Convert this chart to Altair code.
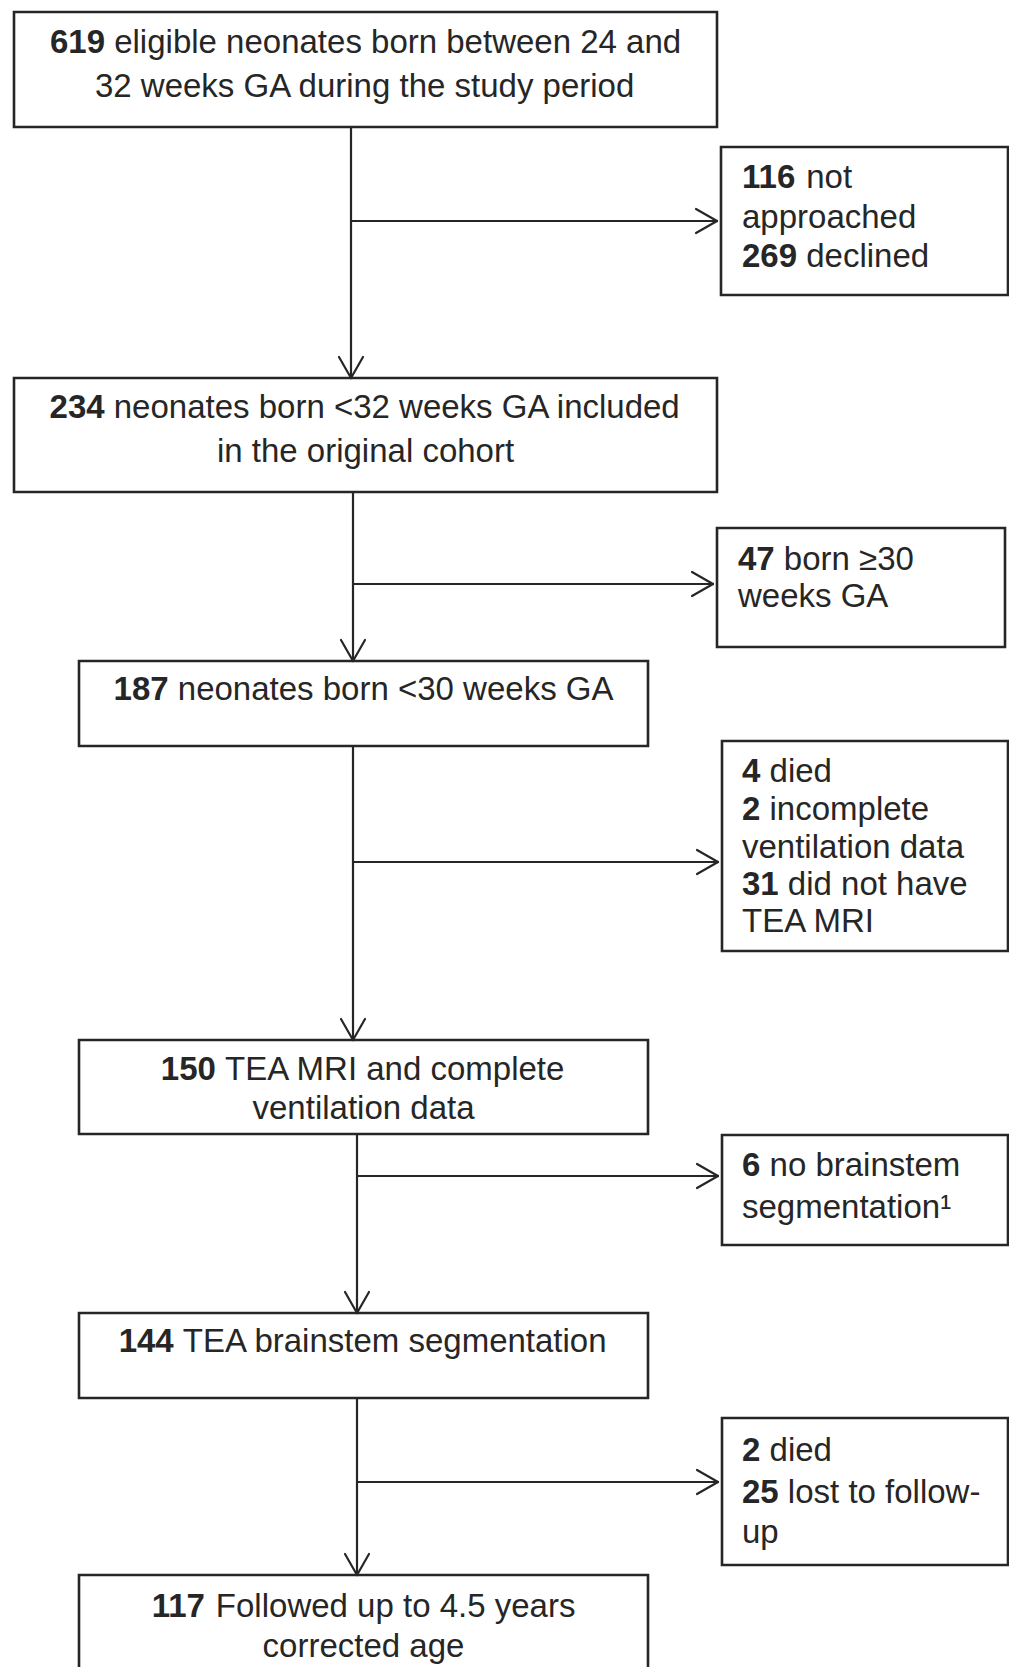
import altair as alt
import pandas as pd

# ---------------- content ----------------
main_text = [
    ["**619** eligible neonates born between 24 and", "32 weeks GA during the study period"],
    ["**234** neonates born <32 weeks GA included", "in the original cohort"],
    ["**187** neonates born <30 weeks GA"],
    ["**150** TEA MRI and complete", "ventilation data"],
    ["**144** TEA brainstem segmentation"],
    ["**117** Followed up to 4.5 years", "corrected age"],
]
side_text = [
    ["**116** not", "approached", "**269** declined"],
    ["**47** born \u226530", "weeks GA"],
    ["**4** died", "**2** incomplete", "ventilation data", "**31** did not have", "TEA MRI"],
    ["**6** no brainstem", "segmentation\u00b9"],
    ["**2** died", "**25** lost to follow-", "up"],
]

# ---------------- layout (page pixels) ----------------
main_box = [(14, 717, 12, 127), (14, 717, 378, 492), (79, 648, 661, 746),
            (79, 648, 1040, 1134), (79, 648, 1313, 1398), (79, 648, 1575, 1700)]
main_base = [[53, 97], [418, 462], [700], [1080, 1119], [1352], [1617, 1657]]
side_box = [(721, 1008, 147, 295), (717, 1005, 528, 647), (722, 1008, 741, 951),
            (722, 1008, 1135, 1245), (722, 1008, 1418, 1565)]
side_left = [742, 738, 742, 742, 742]
side_base = [[188, 228, 267], [570, 607], [782, 820, 858, 895, 932],
             [1176, 1218], [1461, 1503, 1543]]
trunk_x = [351, 353, 353, 357, 357]
branch_y = [221, 584, 862, 1176, 1482]

FS = 33
INK = "#262626"
HEAD_L, HEAD_W = 21, 12

# Arial / Liberation Sans advance widths (1/1000 em)
W = {' ': 278, '<': 584, '\u2265': 549, '.': 278, '-': 333, '\u00b9': 333,
     'A': 667, 'E': 667, 'F': 611, 'G': 778, 'I': 278, 'M': 833, 'R': 722, 'T': 611}
W.update({d: 556 for d in "0123456789"})
W.update(dict(zip("abcdefghijklmnopqrstuvwxyz",
                  [556, 556, 500, 556, 556, 278, 556, 556, 222, 222, 500, 222, 833,
                   556, 556, 556, 556, 333, 500, 278, 556, 500, 722, 500, 500, 500])))


def tw(s):
    return sum(W.get(c, 556) for c in s) * FS / 1000.0


def parse(line):
    if line.startswith("**"):
        num, rest = line[2:].split("** ", 1)
        return [(num, True), (rest, False)]
    return [(line, False)]


def place(line, y, cx=None, left=None):
    segs = parse(line)
    widths = [tw(s) for s, _ in segs]
    total = sum(widths) + tw(" ") * (len(segs) - 1)
    x = left if left is not None else cx - total / 2.0
    out = []
    for (s, b), w in zip(segs, widths):
        out.append({"x": x, "y": y, "text": s, "bold": b})
        x += w + tw(" ")
    return out


texts = []
for lines, bases, (x1, x2, _, _) in zip(main_text, main_base, main_box):
    for ln, yb in zip(lines, bases):
        texts += place(ln, yb, cx=(x1 + x2) / 2.0)
for lines, bases, lx in zip(side_text, side_base, side_left):
    for ln, yb in zip(lines, bases):
        texts += place(ln, yb, left=lx)
text_df = pd.DataFrame(texts)

boxes = [{"x": a, "x2": b, "y": c, "y2": d} for a, b, c, d in main_box + side_box]
box_df = pd.DataFrame(boxes)

lines_ = []
heads = []
for i in range(5):
    tx = trunk_x[i]
    ytop = main_box[i][3]
    ybot = main_box[i + 1][2]
    lines_.append({"x": tx, "y": ytop, "x2": tx, "y2": ybot})
    tip = side_box[i][0] - 4
    by = branch_y[i]
    lines_.append({"x": tx, "y": by, "x2": tip, "y2": by})
    heads.append({"x": tx - HEAD_W, "y": ybot - HEAD_L, "x2": tx, "y2": ybot})
    heads.append({"x": tx + HEAD_W, "y": ybot - HEAD_L, "x2": tx, "y2": ybot})
    heads.append({"x": tip - HEAD_L, "y": by - HEAD_W, "x2": tip, "y2": by})
    heads.append({"x": tip - HEAD_L, "y": by + HEAD_W, "x2": tip, "y2": by})
line_df = pd.DataFrame(lines_)
head_df = pd.DataFrame(heads)

xs = alt.Scale(domain=[8, 1009], nice=False, zero=False)
ys = alt.Scale(domain=[8, 1667], nice=False, zero=False, reverse=True)

conn = alt.Chart(line_df).mark_rule(color=INK, strokeWidth=2.2).encode(
    x=alt.X("x:Q", scale=xs, axis=None), y=alt.Y("y:Q", scale=ys, axis=None),
    x2="x2:Q", y2="y2:Q")
head = alt.Chart(head_df).mark_rule(color=INK, strokeWidth=2.2, strokeCap="round").encode(
    x=alt.X("x:Q", scale=xs, axis=None), y=alt.Y("y:Q", scale=ys, axis=None),
    x2="x2:Q", y2="y2:Q")
rects = alt.Chart(box_df).mark_rect(fill="white", stroke=INK, strokeWidth=2.6, clip=True).encode(
    x=alt.X("x:Q", scale=xs, axis=None), y=alt.Y("y:Q", scale=ys, axis=None),
    x2="x2:Q", y2="y2:Q")
base_txt = alt.Chart(text_df).encode(
    x=alt.X("x:Q", scale=xs, axis=None), y=alt.Y("y:Q", scale=ys, axis=None),
    text="text:N")
txt_n = base_txt.transform_filter("!datum.bold").mark_text(
    align="left", baseline="alphabetic", font="Liberation Sans", fontSize=FS,
    color=INK)
txt_b = base_txt.transform_filter("datum.bold").mark_text(
    align="left", baseline="alphabetic", font="Liberation Sans", fontSize=FS,
    fontWeight="bold", color=INK)

chart = alt.layer(conn, rects, head, txt_n, txt_b).properties(
    width=1001, height=1659, padding=0, autosize="none", background="white"
).configure_view(stroke=None)

chart.save("out.html", embed_options={"renderer": "svg", "actions": False})
